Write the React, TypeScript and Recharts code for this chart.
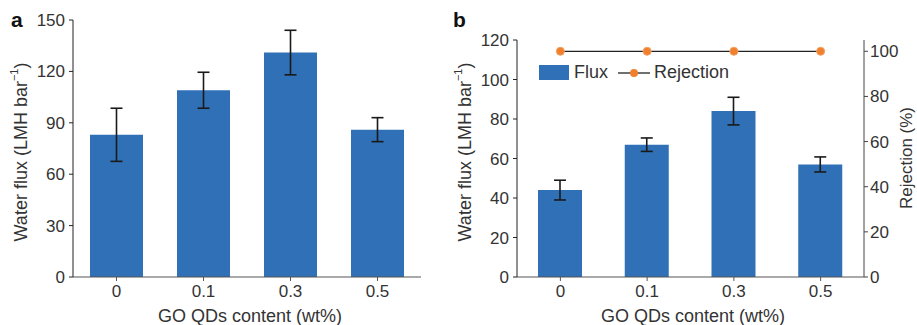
import React from "react";
import {
  ComposedChart,
  Bar,
  Line,
  XAxis,
  YAxis,
  ErrorBar,
  Legend,
  Label,
} from "recharts";

const categories = ["0", "0.1", "0.3", "0.5"];
const fluxA = [83, 109, 131, 86];
const fluxAErr = [15.5, 10.5, 13, 7];
const fluxB = [44, 67, 84, 57];
const fluxBErr = [5, 3.4, 7, 3.8];
const rejection = [100, 100, 100, 100];
const ticksA = [0, 30, 60, 90, 120, 150];
const ticksB = [0, 20, 40, 60, 80, 100, 120];
const ticksRej = [0, 20, 40, 60, 80, 100];

const dataA = categories.map((c, i) => ({ x: c, flux: fluxA[i], err: fluxAErr[i] }));
const dataB = categories.map((c, i) => ({
  x: c,
  flux: fluxB[i],
  err: fluxBErr[i],
  rej: rejection[i],
}));

const FONT = "'Liberation Sans', Arial, sans-serif";
const TEXT = "#333";
const BLUE = "#2f70b6";
const ORANGE = "#f07f2e";
const tickStyle = { fontSize: 17, fill: TEXT, fontFamily: FONT };

const Titles = ({ letter, letterX, yX, xX, rightX }: any) => (
  <g fontFamily={FONT} fill={TEXT}>
    <text x={letterX} y={27} fontSize={21} fontWeight="bold" fill="#111">
      {letter}
    </text>
    <text
      x={yX}
      y={152}
      fontSize={18}
      textAnchor="middle"
      dominantBaseline="central"
      transform={`rotate(-90 ${yX} 152)`}
    >
      <tspan>Water flux (LMH bar</tspan>
      <tspan dy={-7} fontSize={11}>−1</tspan>
      <tspan dy={7}>)</tspan>
    </text>
    <text x={xX} y={316} fontSize={18} textAnchor="middle" dominantBaseline="central">
      GO QDs content (wt%)
    </text>
    {rightX != null && (
      <text
        x={rightX}
        y={158}
        fontSize={17}
        textAnchor="middle"
        dominantBaseline="central"
        transform={`rotate(-90 ${rightX} 158)`}
      >
        Rejection (%)
      </text>
    )}
  </g>
);

const LegendBox = ({ payload }: any) => (
  <div style={{ display: "flex", alignItems: "center", fontFamily: FONT, fontSize: 18, color: TEXT }}>
    {(payload || []).map((p: any) =>
      p.dataKey === "flux" ? (
        <span key="flux" style={{ display: "flex", alignItems: "center", marginRight: 10 }}>
          <span style={{ display: "inline-block", width: 30, height: 15, background: BLUE, marginRight: 5 }} />
          Flux
        </span>
      ) : (
        <span key="rej" style={{ display: "flex", alignItems: "center" }}>
          <svg width={32} height={12} style={{ marginRight: 4 }}>
            <line x1={0} y1={6} x2={32} y2={6} stroke="#222" strokeWidth={1.3} />
            <circle cx={16} cy={6} r={4} fill={ORANGE} />
          </svg>
          Rejection
        </span>
      )
    )}
  </div>
);

const PanelA = () => (
  <ComposedChart
    width={460}
    height={325}
    data={dataA}
    margin={{ top: 20, right: 39, left: 0, bottom: 0 }}
  >
    <XAxis
      dataKey="x"
      height={48}
      tick={tickStyle}
      tickSize={4}
      tickMargin={4}
      stroke="#555"
    >
      <Label content={() => <Titles letter="a" letterX={11} yX={21} xX={250} />} />
    </XAxis>
    <XAxis xAxisId="top" orientation="top" dataKey="x" height={0} tick={false} tickLine={false} stroke="#999" />
    <YAxis
      width={73}
      domain={[0, 150]}
      ticks={ticksA}
      interval={0}
      tick={tickStyle}
      tickSize={4}
      tickMargin={4}
      stroke="#222"
    />
    <YAxis yAxisId="r" orientation="right" width={0} domain={[0, 150]} tick={false} tickLine={false} stroke="#999" />
    <Bar dataKey="flux" fill={BLUE} barSize={53} isAnimationActive={false}>
      <ErrorBar dataKey="err" width={6} stroke="#1a1a1a" strokeWidth={1.6} isAnimationActive={false} />
    </Bar>
  </ComposedChart>
);

const PanelB = () => (
  <ComposedChart
    width={472}
    height={325}
    data={dataB}
    margin={{ top: 19, right: 0, left: 0, bottom: 0 }}
  >
    <XAxis
      dataKey="x"
      height={48}
      tick={tickStyle}
      tickSize={4}
      tickMargin={4}
      stroke="#555"
    >
      <Label content={() => <Titles letter="b" letterX={8} yX={20} xX={248} rightX={461} />} />
    </XAxis>
    <XAxis xAxisId="top" orientation="top" dataKey="x" height={0} tick={false} tickLine={false} stroke="#999" />
    <YAxis
      width={72}
      domain={[0, 120]}
      ticks={ticksB}
      interval={0}
      tick={tickStyle}
      tickSize={4}
      tickMargin={4}
      stroke="#222"
    />
    <YAxis
      yAxisId="rej"
      orientation="right"
      width={53}
      domain={[0, 105]}
      ticks={ticksRej}
      interval={0}
      tick={tickStyle}
      tickSize={4}
      tickMargin={2}
      stroke="#444"
    />
    <Legend
      verticalAlign="top"
      align="left"
      content={<LegendBox />}
      wrapperStyle={{ position: "absolute", left: 94, top: 62, width: "auto" }}
    />
    <Bar dataKey="flux" fill={BLUE} barSize={44} isAnimationActive={false}>
      <ErrorBar dataKey="err" width={6} stroke="#1a1a1a" strokeWidth={1.6} isAnimationActive={false} />
    </Bar>
    <Line
      yAxisId="rej"
      dataKey="rej"
      stroke="#222"
      strokeWidth={1.3}
      dot={{ r: 4, fill: ORANGE, stroke: "#f5a060", strokeWidth: 1 }}
      isAnimationActive={false}
    />
  </ComposedChart>
);

export default function App() {
  return (
    <div style={{ position: "absolute", left: 0, top: 0, width: 917, height: 325, background: "#fff" }}>
      <div style={{ position: "absolute", left: 0, top: 0 }}>
        <PanelA />
      </div>
      <div style={{ position: "absolute", left: 445, top: 0 }}>
        <PanelB />
      </div>
    </div>
  );
}
